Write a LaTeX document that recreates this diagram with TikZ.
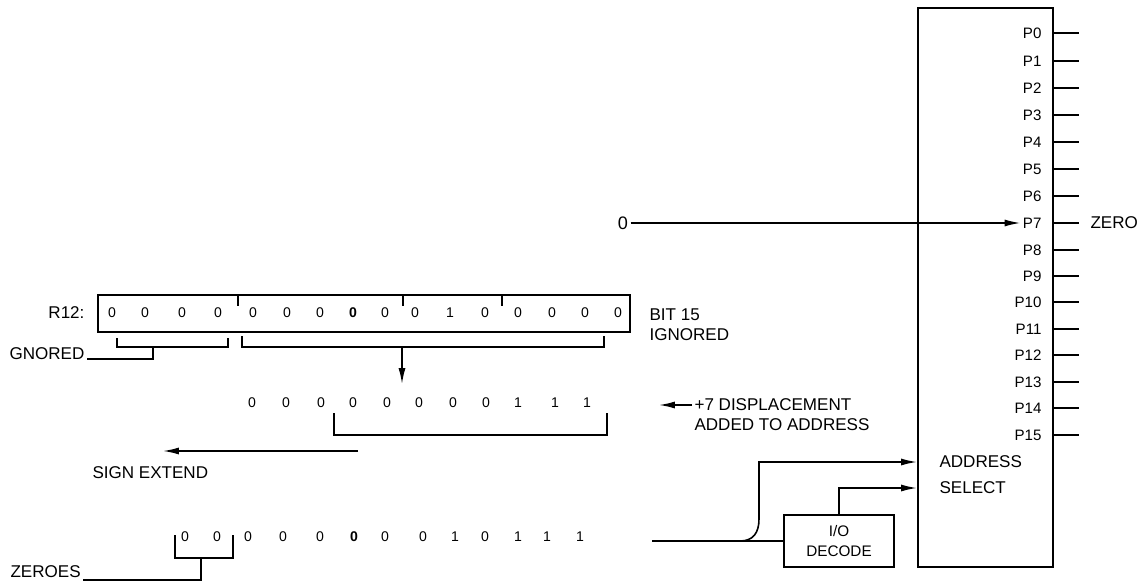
\documentclass[tikz,border=0pt]{standalone}
\usepackage{fontspec}
\setmainfont{Liberation Sans}
\usetikzlibrary{arrows.meta}

\begin{document}
\begin{tikzpicture}[x=0.02cm, y=-0.02cm, line width=0.9pt]

    % Sheet: 1 unit = 1 px of a 1140 x 588 page, y runs downwards
    \useasboundingbox (0,0) rectangle (1140,588);

    % Styles
    \tikzset{
        lbl/.style={font=\fontsize{9.7}{11.4}\selectfont, inner sep=1pt},
        bit/.style={font=\fontsize{8}{9.6}\selectfont, inner sep=1pt},
        pinlbl/.style={font=\fontsize{8.6}{10}\selectfont, anchor=east, inner sep=1pt},
        arr/.style={-{Latex[length=9pt,width=4pt]}}
    }

    % Row y-positions
    \def\yr{313}
    \def\ym{403}
    \def\yb{537}

    % --- Port chip ---
    \node[draw, line width=1.2pt, minimum width=2.7cm, minimum height=11.18cm,
          inner sep=0pt] (port) at (985.5,287.5) {};

    \node[pinlbl] (p0)  at (1044,33)  {P0};
    \node[pinlbl] (p1)  at (1044,61)  {P1};
    \node[pinlbl] (p2)  at (1044,88)  {P2};
    \node[pinlbl] (p3)  at (1044,115) {P3};
    \node[pinlbl] (p4)  at (1044,142) {P4};
    \node[pinlbl] (p5)  at (1044,169) {P5};
    \node[pinlbl] (p6)  at (1044,196) {P6};
    \node[pinlbl] (p7)  at (1044,223) {P7};
    \node[pinlbl] (p8)  at (1044,250) {P8};
    \node[pinlbl] (p9)  at (1044,276) {P9};
    \node[pinlbl] (p10) at (1044,302) {P10};
    \node[pinlbl] (p11) at (1044,329) {P11};
    \node[pinlbl] (p12) at (1044,355) {P12};
    \node[pinlbl] (p13) at (1044,382) {P13};
    \node[pinlbl] (p14) at (1044,408) {P14};
    \node[pinlbl] (p15) at (1044,435) {P15};

    % pin stubs
    \draw (port.east |- p0)  -- ++(25,0);
    \draw (port.east |- p1)  -- ++(25,0);
    \draw (port.east |- p2)  -- ++(25,0);
    \draw (port.east |- p3)  -- ++(25,0);
    \draw (port.east |- p4)  -- ++(25,0);
    \draw (port.east |- p5)  -- ++(25,0);
    \draw (port.east |- p6)  -- ++(25,0);
    \draw (port.east |- p7)  -- ++(25,0);
    \draw (port.east |- p8)  -- ++(25,0);
    \draw (port.east |- p9)  -- ++(25,0);
    \draw (port.east |- p10) -- ++(25,0);
    \draw (port.east |- p11) -- ++(25,0);
    \draw (port.east |- p12) -- ++(25,0);
    \draw (port.east |- p13) -- ++(25,0);
    \draw (port.east |- p14) -- ++(25,0);
    \draw (port.east |- p15) -- ++(25,0);

    \node[lbl, anchor=west] (zero) at (1088,223) {ZERO};
    \node[lbl, anchor=west] (addr) at (937,462) {ADDRESS};
    \node[lbl, anchor=west] (sel)  at (937,488) {SELECT};

    % data bit into P7
    \node[font=\fontsize{10.3}{12}\selectfont, inner sep=1pt] (zin) at (623,223) {0};
    \draw[arr] (zin) -- (p7);

    % --- R12 register ---
    \node[lbl, anchor=east] (rname) at (87,\yr) {R12:};
    \node[draw, minimum width=10.64cm, minimum height=0.74cm, inner sep=0pt]
        (reg) at (364,313.5) {};
    \draw (238,295) -- (238,306);
    \draw (403,295) -- (403,306);
    \draw (502,295) -- (502,306);

    \node[bit] (r0)  at (112,\yr) {0};
    \node[bit] (r1)  at (145,\yr) {0};
    \node[bit] (r2)  at (182,\yr) {0};
    \node[bit] (r3)  at (218,\yr) {0};
    \node[bit] (r4)  at (253,\yr) {0};
    \node[bit] (r5)  at (287,\yr) {0};
    \node[bit] (r6)  at (320,\yr) {0};
    \node[bit] (r7)  at (353,\yr) {\textbf{0}};
    \node[bit] (r8)  at (385,\yr) {0};
    \node[bit] (r9)  at (415,\yr) {0};
    \node[bit] (r10) at (450,\yr) {1};
    \node[bit] (r11) at (485,\yr) {0};
    \node[bit] (r12) at (518,\yr) {0};
    \node[bit] (r13) at (552,\yr) {0};
    \node[bit] (r14) at (585,\yr) {0};
    \node[bit] (r15) at (618,\yr) {0};

    \node[lbl, anchor=west] (bit15) at (647,315) {BIT 15};
    \node[lbl, anchor=west] (ign)   at (647,335) {IGNORED};

    % bracket over ignored high bits
    \node[lbl, anchor=base west] (gnored) at (7,359) {GNORED};
    \draw (117,338) -- (117,347) -- (228,347) -- (228,338);
    \draw (153,347) -- (153,359) -- (gnored.base east);

    % bracket over used bits, down to displacement row
    \draw (242,336) -- (242,347) -- (604,347) -- (604,336);
    \coordinate (usedbr) at (402,347);
    \coordinate (disptop) at (402,384);
    \draw[arr] (usedbr) -- (disptop);

    % --- Displacement row ---
    \node[bit] (m4)  at (252,\ym) {0};
    \node[bit] (m5)  at (286,\ym) {0};
    \node[bit] (m6)  at (321,\ym) {0};
    \node[bit] (m7)  at (353,\ym) {0};
    \node[bit] (m8)  at (387,\ym) {0};
    \node[bit] (m9)  at (419,\ym) {0};
    \node[bit] (m10) at (453,\ym) {0};
    \node[bit] (m11) at (486,\ym) {0};
    \node[bit] (m12) at (518,\ym) {1};
    \node[bit] (m13) at (555,\ym) {1};
    \node[bit] (m14) at (587,\ym) {1};

    \draw (334,413) -- (334,435) -- (607,435) -- (607,413);

    \node[lbl, anchor=west] (disp1) at (692,405) {+7 DISPLACEMENT};
    \node[lbl, anchor=west] (disp2) at (692,425) {ADDED TO ADDRESS};
    \coordinate (disptip) at (659,405);
    \draw[arr] (disp1.west) -- (disptip);

    % sign extension
    \coordinate (sgnA) at (358,451);
    \coordinate (sgnB) at (163,451);
    \draw[arr] (sgnA) -- (sgnB);
    \node[lbl, anchor=west] (sgn) at (90,473) {SIGN EXTEND};

    % --- Resulting address row ---
    \node[bit] (b2)  at (185,\yb) {0};
    \node[bit] (b3)  at (217,\yb) {0};
    \node[bit] (b4)  at (248,\yb) {0};
    \node[bit] (b5)  at (283,\yb) {0};
    \node[bit] (b6)  at (320,\yb) {0};
    \node[bit] (b7)  at (354,\yb) {\textbf{0}};
    \node[bit] (b8)  at (385,\yb) {0};
    \node[bit] (b9)  at (423,\yb) {0};
    \node[bit] (b10) at (455,\yb) {1};
    \node[bit] (b11) at (485,\yb) {0};
    \node[bit] (b12) at (518,\yb) {1};
    \node[bit] (b13) at (547,\yb) {1};
    \node[bit] (b14) at (580,\yb) {1};

    \node[lbl, anchor=base west] (zeroes) at (8,577) {ZEROES};
    \draw (175,535) -- (175,558) -- (233,558) -- (233,535);
    \draw (201,558) -- (201,580) -- (zeroes.base east |- 0,580);

    % --- I/O decode and address lines ---
    \node[draw, align=center, minimum width=2.2cm, minimum height=1.04cm, inner sep=0pt,
          font=\fontsize{8.7}{11.4}\selectfont] (io) at (839,541) {I/O\\DECODE};

    \coordinate (bout) at (652,541);
    \coordinate (bsplit) at (740,541);
    \draw (bout) -- (io.west);
    \draw[arr] (bsplit) .. controls (753,541) and (759,533) .. (759,519)
        |- (port.west |- addr);
    \draw[arr] (io.north) |- (port.west |- sel);

\end{tikzpicture}
\end{document}
